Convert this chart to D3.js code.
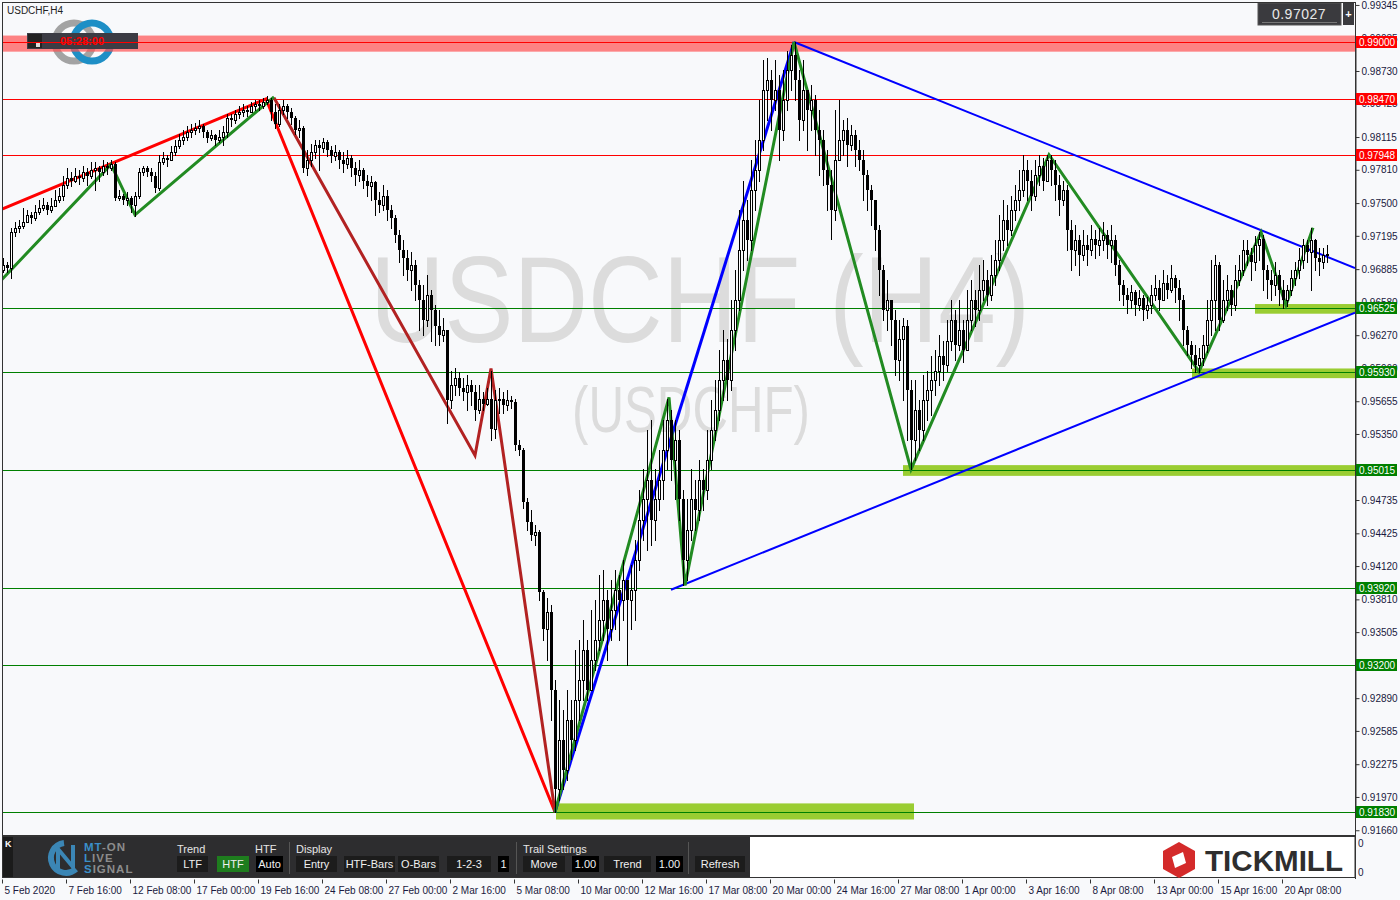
<!DOCTYPE html>
<html><head><meta charset="utf-8">
<script src="https://cdn.jsdelivr.net/npm/d3@7"></script>
<style>
body{margin:0;background:#f8f9fb;}
svg{display:block;font-family:"Liberation Sans",Arial,sans-serif;}
</style>
</head><body><svg id="c" width="1400" height="900"></svg>
<script>
// ---------------- DATA ----------------
const symbolLabel = "USDCHF,H4";
const currentPrice = "0.97027";
const firstOpen = 0.9688;
const closes = [
0.9692,0.9690,0.9723,0.9727,0.9729,0.9732,0.9739,0.9736,0.9742,0.9745,
0.9748,0.9744,0.9747,0.9753,0.9757,0.9767,0.9773,0.9771,0.9775,0.9773,
0.9779,0.9775,0.9781,0.9783,0.9779,0.9785,0.9783,0.9786,0.9755,0.9757,
0.9753,0.9755,0.9748,0.9757,0.9779,0.9783,0.9779,0.9775,0.9764,0.9788,
0.9792,0.9790,0.9798,0.9803,0.9809,0.9812,0.9816,0.9818,0.9820,0.9822,
0.9816,0.9811,0.9813,0.9809,0.9812,0.9816,0.9829,0.9827,0.9833,0.9835,
0.9837,0.9835,0.9840,0.9842,0.9840,0.9844,0.9846,0.9835,0.9824,0.9837,
0.9840,0.9835,0.9829,0.9818,0.9820,0.9783,0.9790,0.9798,0.9804,0.9801,
0.9807,0.9799,0.9794,0.9798,0.9790,0.9786,0.9792,0.9783,0.9776,0.9781,
0.9771,0.9766,0.9770,0.9753,0.9748,0.9757,0.9744,0.9736,0.9720,0.9706,
0.9699,0.9688,0.9692,0.9674,0.9660,0.9641,0.9664,0.9650,0.9636,0.9627,
0.9632,0.9567,0.9581,0.9587,0.9578,0.9574,0.9581,0.9574,0.9557,0.9568,
0.9563,0.9568,0.9540,0.9567,0.9568,0.9562,0.9567,0.9565,0.9525,0.9520,
0.9472,0.9453,0.9441,0.9444,0.9388,0.9353,0.9369,0.9297,0.9204,0.9250,
0.9222,0.9269,0.9250,0.9287,0.9306,0.9334,0.9297,0.9325,0.9343,0.9362,
0.9380,0.9353,0.9371,0.9390,0.9380,0.9399,0.9380,0.9390,0.9418,0.9455,
0.9474,0.9492,0.9455,0.9474,0.9492,0.9520,0.9548,0.9511,0.9529,0.9474,
0.9418,0.9446,0.9474,0.9464,0.9492,0.9483,0.9511,0.9539,0.9557,0.9585,
0.9604,0.9585,0.9632,0.9660,0.9706,0.9734,0.9716,0.9762,0.9781,0.9809,
0.9855,0.9865,0.9846,0.9855,0.9818,0.9846,0.9874,0.9888,0.9865,0.9827,
0.9855,0.9837,0.9846,0.9818,0.9809,0.9781,0.9767,0.9744,0.9790,0.9809,
0.9818,0.9804,0.9813,0.9799,0.9790,0.9776,0.9762,0.9753,0.9725,0.9688,
0.9650,0.9660,0.9641,0.9604,0.9623,0.9636,0.9576,0.9529,0.9557,0.9539,
0.9567,0.9576,0.9585,0.9594,0.9608,0.9599,0.9622,0.9641,0.9618,0.9632,
0.9613,0.9641,0.9660,0.9650,0.9669,0.9678,0.9664,0.9683,0.9697,0.9716,
0.9734,0.9725,0.9744,0.9753,0.9762,0.9781,0.9771,0.9757,0.9776,0.9785,
0.9771,0.9790,0.9781,0.9767,0.9753,0.9762,0.9725,0.9706,0.9716,0.9702,
0.9711,0.9706,0.9717,0.9711,0.9716,0.9720,0.9711,0.9716,0.9692,0.9674,
0.9664,0.9660,0.9667,0.9655,0.9662,0.9650,0.9655,0.9664,0.9671,0.9660,
0.9676,0.9669,0.9680,0.9671,0.9660,0.9632,0.9618,0.9609,0.9599,0.9606,
0.9618,0.9641,0.9660,0.9692,0.9641,0.9660,0.9669,0.9655,0.9678,0.9688,
0.9706,0.9702,0.9695,0.9711,0.9717,0.9688,0.9678,0.9674,0.9683,0.9669,
0.9660,0.9669,0.9680,0.9688,0.9697,0.9711,0.9704,0.9716,0.9699,0.9695,
0.9702,0.97027];
const highs = [
0.9699,0.9695,0.9727,0.9732,0.9734,0.9745,0.9744,0.9742,0.9748,0.9753,
0.9755,0.9751,0.9755,0.9762,0.9764,0.9775,0.9783,0.9779,0.9783,0.9781,
0.9785,0.9783,0.9788,0.9788,0.9785,0.9790,0.9788,0.9790,0.9788,0.9762,
0.9758,0.9760,0.9757,0.9760,0.9783,0.9785,0.9785,0.9783,0.9779,0.9795,
0.9798,0.9795,0.9803,0.9809,0.9814,0.9818,0.9822,0.9824,0.9825,0.9827,
0.9824,0.9818,0.9818,0.9814,0.9818,0.9822,0.9833,0.9833,0.9837,0.9840,
0.9842,0.9840,0.9844,0.9846,0.9846,0.9848,0.9850,0.9848,0.9842,0.9842,
0.9846,0.9842,0.9839,0.9831,0.9827,0.9822,0.9799,0.9805,0.9809,0.9809,
0.9811,0.9809,0.9803,0.9804,0.9799,0.9798,0.9799,0.9795,0.9788,0.9790,
0.9783,0.9776,0.9775,0.9771,0.9760,0.9767,0.9762,0.9748,0.9739,0.9725,
0.9716,0.9706,0.9704,0.9697,0.9678,0.9674,0.9683,0.9669,0.9655,0.9650,
0.9643,0.9632,0.9594,0.9596,0.9593,0.9587,0.9590,0.9585,0.9581,0.9581,
0.9574,0.9578,0.9594,0.9576,0.9578,0.9574,0.9576,0.9570,0.9568,0.9529,
0.9522,0.9475,0.9464,0.9450,0.9446,0.9390,0.9382,0.9376,0.9306,0.9287,
0.9278,0.9297,0.9287,0.9334,0.9343,0.9362,0.9343,0.9371,0.9380,0.9404,
0.9408,0.9390,0.9399,0.9408,0.9404,0.9418,0.9399,0.9413,0.9436,0.9483,
0.9502,0.9539,0.9548,0.9502,0.9520,0.9548,0.9568,0.9557,0.9548,0.9539,
0.9483,0.9474,0.9502,0.9492,0.9511,0.9502,0.9539,0.9567,0.9585,0.9613,
0.9632,0.9623,0.9660,0.9688,0.9744,0.9771,0.9753,0.9790,0.9809,0.9846,
0.9883,0.9885,0.9874,0.9883,0.9869,0.9874,0.9892,0.9897,0.9900,0.9874,
0.9883,0.9855,0.9860,0.9851,0.9837,0.9818,0.9799,0.9781,0.9837,0.9846,
0.9827,0.9829,0.9823,0.9818,0.9809,0.9799,0.9781,0.9767,0.9753,0.9730,
0.9692,0.9678,0.9660,0.9650,0.9641,0.9643,0.9641,0.9585,0.9585,0.9567,
0.9590,0.9594,0.9608,0.9613,0.9627,0.9622,0.9641,0.9660,0.9650,0.9660,
0.9641,0.9669,0.9678,0.9669,0.9692,0.9697,0.9688,0.9702,0.9716,0.9739,
0.9753,0.9748,0.9757,0.9767,0.9781,0.9795,0.9790,0.9781,0.9790,0.9795,
0.9792,0.9795,0.9795,0.9790,0.9776,0.9771,0.9767,0.9734,0.9730,0.9720,
0.9725,0.9720,0.9730,0.9725,0.9727,0.9732,0.9725,0.9730,0.9720,0.9697,
0.9678,0.9671,0.9674,0.9669,0.9669,0.9664,0.9663,0.9674,0.9683,0.9678,
0.9688,0.9683,0.9692,0.9683,0.9678,0.9664,0.9636,0.9622,0.9618,0.9615,
0.9627,0.9660,0.9697,0.9702,0.9695,0.9678,0.9683,0.9674,0.9692,0.9702,
0.9716,0.9716,0.9708,0.9719,0.9723,0.9720,0.9692,0.9688,0.9695,0.9688,
0.9678,0.9674,0.9688,0.9695,0.9708,0.9717,0.9716,0.9727,0.9717,0.9708,
0.9708,0.9711];
const lows = [
0.9686,0.9686,0.9680,0.9719,0.9723,0.9727,0.9732,0.9731,0.9734,0.9740,
0.9744,0.9740,0.9742,0.9747,0.9751,0.9753,0.9764,0.9766,0.9770,0.9768,
0.9771,0.9767,0.9773,0.9762,0.9771,0.9776,0.9777,0.9781,0.9753,0.9753,
0.9749,0.9748,0.9742,0.9738,0.9755,0.9776,0.9775,0.9771,0.9760,0.9762,
0.9786,0.9785,0.9790,0.9795,0.9801,0.9805,0.9809,0.9812,0.9814,0.9816,
0.9812,0.9807,0.9809,0.9804,0.9807,0.9804,0.9812,0.9822,0.9825,0.9829,
0.9831,0.9831,0.9835,0.9837,0.9837,0.9839,0.9842,0.9827,0.9820,0.9822,
0.9833,0.9829,0.9824,0.9814,0.9812,0.9779,0.9776,0.9785,0.9792,0.9781,
0.9798,0.9794,0.9788,0.9790,0.9783,0.9779,0.9783,0.9775,0.9767,0.9771,
0.9764,0.9757,0.9753,0.9739,0.9742,0.9744,0.9734,0.9727,0.9714,0.9695,
0.9683,0.9678,0.9669,0.9660,0.9632,0.9627,0.9636,0.9622,0.9618,0.9618,
0.9622,0.9545,0.9559,0.9571,0.9571,0.9567,0.9557,0.9562,0.9548,0.9555,
0.9557,0.9562,0.9529,0.9531,0.9555,0.9555,0.9557,0.9559,0.9520,0.9515,
0.9466,0.9446,0.9436,0.9432,0.9380,0.9343,0.9325,0.9269,0.9183,0.9194,
0.9204,0.9213,0.9232,0.9241,0.9269,0.9287,0.9287,0.9297,0.9315,0.9334,
0.9343,0.9325,0.9343,0.9353,0.9343,0.9362,0.9320,0.9353,0.9362,0.9408,
0.9436,0.9427,0.9432,0.9436,0.9464,0.9474,0.9502,0.9492,0.9474,0.9455,
0.9394,0.9399,0.9436,0.9446,0.9455,0.9464,0.9474,0.9502,0.9529,0.9548,
0.9567,0.9567,0.9576,0.9613,0.9650,0.9688,0.9697,0.9706,0.9744,0.9771,
0.9799,0.9827,0.9818,0.9837,0.9790,0.9809,0.9837,0.9855,0.9846,0.9809,
0.9818,0.9799,0.9818,0.9795,0.9776,0.9767,0.9744,0.9717,0.9734,0.9790,
0.9795,0.9785,0.9799,0.9785,0.9781,0.9753,0.9744,0.9730,0.9706,0.9664,
0.9641,0.9632,0.9618,0.9590,0.9585,0.9567,0.9529,0.9502,0.9511,0.9520,
0.9529,0.9548,0.9553,0.9571,0.9581,0.9585,0.9594,0.9613,0.9604,0.9613,
0.9602,0.9618,0.9632,0.9636,0.9641,0.9660,0.9655,0.9660,0.9674,0.9688,
0.9706,0.9711,0.9720,0.9734,0.9744,0.9757,0.9753,0.9744,0.9753,0.9767,
0.9762,0.9776,0.9767,0.9753,0.9739,0.9748,0.9706,0.9688,0.9692,0.9683,
0.9697,0.9692,0.9702,0.9699,0.9702,0.9706,0.9699,0.9695,0.9683,0.9660,
0.9655,0.9648,0.9652,0.9646,0.9650,0.9641,0.9643,0.9648,0.9660,0.9650,
0.9660,0.9662,0.9667,0.9658,0.9641,0.9618,0.9609,0.9596,0.9593,0.9593,
0.9599,0.9611,0.9627,0.9632,0.9632,0.9639,0.9650,0.9646,0.9650,0.9674,
0.9683,0.9692,0.9678,0.9688,0.9697,0.9669,0.9662,0.9660,0.9664,0.9655,
0.9652,0.9654,0.9664,0.9674,0.9680,0.9690,0.9695,0.9669,0.9688,0.9683,
0.9690,0.9695];

const dateLabels = ["5 Feb 2020","7 Feb 16:00","12 Feb 08:00","17 Feb 00:00","19 Feb 16:00","24 Feb 08:00","27 Feb 00:00","2 Mar 16:00","5 Mar 08:00","10 Mar 00:00","12 Mar 16:00","17 Mar 08:00","20 Mar 00:00","24 Mar 16:00","27 Mar 08:00","1 Apr 00:00","3 Apr 16:00","8 Apr 08:00","13 Apr 00:00","15 Apr 16:00","20 Apr 08:00"];
const barsPerDateLabel = 16;
const priceTicks = ["0.99345","0.99035","0.98730","0.98425","0.98115","0.97810","0.97500","0.97195","0.96885","0.96580","0.96270","0.95960","0.95655","0.95350","0.94735","0.94425","0.94120","0.93810","0.93505","0.92890","0.92585","0.92275","0.91970","0.91660"];
const resistanceLevels = ["0.99000","0.98470","0.97948"];
const supportLevels = ["0.96525","0.95930","0.95015","0.93920","0.93200","0.91830"];

// zigzag / trendline vertices: [bar index, price]
const htfDownLine = [[-0.5,0.9744],[65.75,0.9847],[138,0.9183]];
const htfUpLine = [[138,0.9183],[197.75,0.9900]];
const ltfDownZigzag = [[67.75,0.9848],[118,0.9515],[122,0.9596],[138,0.9183]];
const ltfUpZigzagA = [[-0.5,0.9678],[27,0.9786],[33,0.9739],[67.75,0.9849]];
const ltfUpZigzagB = [[138,0.9183],[166.5,0.9569],[170.5,0.9394],[197.75,0.9900],[227,0.9502],[261.5,0.9795],[299,0.9593],[314.5,0.9723],[320.75,0.9655],[327.5,0.9727]];
const triangleTop = [[197.75,0.9900],[338,0.96895]];
const triangleBottom = [[167,0.9390],[338,0.9648]];
// zones: [fromBar, toBar, lowPrice, highPrice]
const supportZones = [[138.25,227.75,0.9176,0.9191],[225,338,0.9496,0.9506],[297.25,338,0.9587,0.9596],[313,338,0.9647,0.9656]];
const resistanceZone = [-1,338,0.9891,0.9906];

// ---------------- CHART ----------------
const svg = d3.select("#c");
const PL=2, PR=1355, PT=2, PB=835;
const x = d3.scaleLinear().domain([0,338]).range([3,1355]);
const y = d3.scaleLinear().domain([0.9183,0.9900]).range([812,42]);

svg.append("rect").attr("width",1400).attr("height",900).attr("fill","#f8f9fb");
svg.append("defs").append("clipPath").attr("id","plot").append("rect")
  .attr("x",PL).attr("y",PT).attr("width",PR-PL).attr("height",PB-PT);
const plot = svg.append("g").attr("clip-path","url(#plot)");

// watermark
plot.append("text").attr("x",700).attr("y",342).attr("text-anchor","middle")
  .attr("font-size",122).attr("fill","#dcdcdc").attr("textLength",660).attr("lengthAdjust","spacingAndGlyphs")
  .text("USDCHF (H4)");
plot.append("text").attr("x",691).attr("y",432).attr("text-anchor","middle")
  .attr("font-size",64).attr("fill","#dcdcdc").attr("textLength",238).attr("lengthAdjust","spacingAndGlyphs")
  .text("(USDCHF)");

// logo top-left (behind band)
plot.append("circle").attr("cx",74).attr("cy",42).attr("r",19).attr("fill","none").attr("stroke","#a3a3a3").attr("stroke-width",7);
plot.append("circle").attr("cx",92).attr("cy",42).attr("r",19).attr("fill","none").attr("stroke","#1e8fc6").attr("stroke-width",7);

// zones
plot.append("rect").attr("x",x(resistanceZone[0])).attr("width",x(resistanceZone[1])-x(resistanceZone[0]))
  .attr("y",y(resistanceZone[3])).attr("height",y(resistanceZone[2])-y(resistanceZone[3])).attr("fill","#ff5050").attr("opacity",0.7);
plot.selectAll(".zone").data(supportZones).join("rect")
  .attr("x",d=>x(d[0])).attr("width",d=>x(d[1])-x(d[0]))
  .attr("y",d=>y(d[3])).attr("height",d=>y(d[2])-y(d[3])).attr("fill","#9acd32");

// timer box (top-left)
plot.append("rect").attr("x",27).attr("y",33).attr("width",111).attr("height",16).attr("fill","#3c3c44");
plot.append("rect").attr("x",28).attr("y",34).attr("width",14).attr("height",14).attr("fill","#222");
plot.append("rect").attr("x",36).attr("y",43).attr("width",4).attr("height",4).attr("fill","#ddd");
plot.append("text").attr("x",82).attr("y",45).attr("text-anchor","middle").attr("font-size",11)
  .attr("font-weight","bold").attr("fill","#ff0000").text("05:28:00");

// level lines (1px filled rows)
const hline = (p,col)=>plot.append("rect").attr("x",PL).attr("width",PR-PL)
  .attr("y",Math.round(y(+p))).attr("height",1).attr("fill",col);
resistanceLevels.forEach(p=>hline(p,"#ff0000"));
supportLevels.forEach(p=>hline(p,"#008000"));

// zigzags & trendlines
const line = d3.line().x(d=>x(d[0])).y(d=>y(d[1]));
const drawPath = (pts,col,w)=>plot.append("path").attr("d",line(pts)).attr("fill","none")
  .attr("stroke",col).attr("stroke-width",w).attr("stroke-linejoin","miter");
drawPath(triangleTop,"#0000ff",2);
drawPath(triangleBottom,"#0000ff",2);
drawPath(htfDownLine,"#ff0000",3);
drawPath(ltfDownZigzag,"#b22222",3);
drawPath(ltfUpZigzagA,"#228b22",3);
drawPath(htfUpLine,"#0000ff",3);
drawPath(ltfUpZigzagB,"#228b22",3);

// candles
const bars = closes.map((c,i)=>{
  const o = i===0?firstOpen:closes[i-1];
  return {i,o,c,h:Math.max(highs[i],o,c),l:Math.min(lows[i],o,c)};
});
const cg = plot.append("g").attr("shape-rendering","crispEdges");
bars.forEach(b=>{
  const cx = Math.round(x(b.i));
  cg.append("rect").attr("x",cx).attr("width",1)
    .attr("y",Math.round(y(b.h))).attr("height",Math.round(y(b.l))-Math.round(y(b.h))+1).attr("fill","#000");
  const yt = Math.round(y(Math.max(b.o,b.c))), yb = Math.round(y(Math.min(b.o,b.c)));
  if(b.c>=b.o){
    cg.append("rect").attr("x",cx-0.5).attr("y",yt+0.5).attr("width",2).attr("height",Math.max(yb-yt,1))
      .attr("fill","#fff").attr("stroke","#000");
  } else {
    cg.append("rect").attr("x",cx-1).attr("y",yt).attr("width",3).attr("height",Math.max(yb-yt,1)).attr("fill","#000");
  }
});

plot.append("text").attr("x",7).attr("y",14).attr("font-size",10).attr("fill","#222").text(symbolLabel);

// price box top-right
svg.append("rect").attr("x",1258).attr("y",3).attr("width",83).attr("height",22).attr("fill","#3a3a3e").attr("stroke","#555");
svg.append("line").attr("x1",1262).attr("x2",1337).attr("y1",22.5).attr("y2",22.5).attr("stroke","#777");
svg.append("text").attr("x",1299).attr("y",19).attr("text-anchor","middle").attr("font-size",14)
  .attr("fill","#e8e8e8").attr("letter-spacing",0.5).text(currentPrice);
svg.append("rect").attr("x",1343).attr("y",3).attr("width",11).attr("height",22).attr("fill","#3a3a3e");
svg.append("text").attr("x",1348.5).attr("y",18).attr("text-anchor","middle").attr("font-size",11).attr("font-weight","bold").attr("fill","#fff").text("+");

// borders
svg.append("rect").attr("x",PL+0.5).attr("y",PT+0.5).attr("width",PR-PL).attr("height",PB-PT)
  .attr("fill","none").attr("stroke","#333").attr("stroke-width",1).attr("shape-rendering","crispEdges");

// price axis
const yAxis = d3.axisRight(y).tickValues(priceTicks.map(Number)).tickFormat((d,i)=>priceTicks[i]).tickSize(4).tickPadding(2);
const ya = svg.append("g").attr("transform",`translate(${PR+0.5},0)`).call(yAxis);
ya.select(".domain").attr("stroke","#333");
ya.selectAll("text").attr("font-size",10).attr("fill","#1a1a40").attr("font-family","Liberation Sans, Arial");
ya.selectAll("line").attr("stroke","#333");

// level labels
const lvl = (p,col)=>{
  const yy = Math.round(y(+p));
  svg.append("rect").attr("x",1356).attr("y",yy-6).attr("width",41).attr("height",12).attr("fill",col);
  svg.append("text").attr("x",1359).attr("y",yy+4).attr("font-size",10).attr("fill","#fff").text(p);
};
resistanceLevels.forEach(p=>lvl(p,"#ff0000"));
supportLevels.forEach(p=>lvl(p,"#008000"));

// sub-window / toolbar
svg.append("rect").attr("x",2.5).attr("y",836.5).attr("width",1352.5).attr("height",41).attr("fill","#fff").attr("stroke","#333");
svg.append("line").attr("x1",1355.5).attr("x2",1355.5).attr("y1",836).attr("y2",879).attr("stroke","#333");
svg.append("text").attr("x",1358).attr("y",847).attr("font-size",10).attr("fill","#1a1a40").text("0");
svg.append("text").attr("x",1358).attr("y",876).attr("font-size",10).attr("fill","#1a1a40").text("0");
svg.append("rect").attr("x",3).attr("y",837).attr("width",747).attr("height",40).attr("fill","#2d2d2f");
svg.append("rect").attr("x",3).attr("y",837).attr("width",10).attr("height",40).attr("fill","#1b1b1b");
svg.append("text").attr("x",5).attr("y",847).attr("font-size",9).attr("font-weight","bold").attr("fill","#fff").text("K");
// MT-ON logo
svg.append("path").attr("d","M64,843 A15,15 0 1 0 76,869").attr("fill","none").attr("stroke","#3b86b5").attr("stroke-width",6);
svg.append("path").attr("d","M58,871 L58,849 L73,867 L73,845").attr("fill","none").attr("stroke","#3b86b5").attr("stroke-width",4);
const logoLines=[["MT","-ON",851],["L","IVE",862],["S","IGNAL",873]];
logoLines.forEach(([a,b,yy])=>{
  const t=svg.append("text").attr("x",84).attr("y",yy).attr("font-size",11.5).attr("font-weight","bold").attr("letter-spacing",1);
  t.append("tspan").attr("fill","#3b8fc8").text(a);
  t.append("tspan").attr("fill","#8c8c8c").text(b);
});
const tbLabels=[["Trend",177],["HTF",255],["Display",296],["Trail Settings",523]];
tbLabels.forEach(([s,xx])=>svg.append("text").attr("x",xx).attr("y",853).attr("font-size",11).attr("fill","#e6e6e6").text(s));
const buttons=[["LTF",177,208,"#1c1c1c"],["HTF",217,249,"#1e7d1e"],["Auto",256,283,"#000"],
 ["Entry",296,337,"#1c1c1c"],["HTF-Bars",344,395,"#1c1c1c"],["O-Bars",398,439,"#1c1c1c"],["1-2-3",447,491,"#1c1c1c"],["1",498,509,"#000"],
 ["Move",523,565,"#1c1c1c"],["1.00",572,599,"#000"],["Trend",604,651,"#1c1c1c"],["1.00",656,683,"#000"],["Refresh",695,745,"#1c1c1c"]];
buttons.forEach(([s,a,b,col])=>{
  svg.append("rect").attr("x",a).attr("y",856).attr("width",b-a).attr("height",16).attr("fill",col);
  svg.append("text").attr("x",(a+b)/2).attr("y",868).attr("text-anchor","middle").attr("font-size",11).attr("fill","#f0f0f0").text(s);
});
[289,516,688].forEach(xx=>svg.append("line").attr("x1",xx+0.5).attr("x2",xx+0.5).attr("y1",842).attr("y2",874).attr("stroke","#555"));
// TICKMILL logo
svg.append("path").attr("d","M1179,842 L1195,851 L1195,869 L1179,878 L1163,869 L1163,851 Z").attr("fill","#d42a2a");
svg.append("path").attr("d","M1172,857 L1183,852 L1186,863 L1175,868 Z").attr("fill","#fff");
svg.append("text").attr("x",1205).attr("y",871).attr("font-size",29).attr("font-weight","bold").attr("fill","#2e2e2e")
  .attr("textLength",138).attr("lengthAdjust","spacingAndGlyphs").text("TICKMILL");

// time axis
const xAxis = d3.axisBottom(x).tickValues(dateLabels.map((d,i)=>i*barsPerDateLabel)).tickFormat((d,i)=>dateLabels[i]).tickSize(4).tickPadding(3);
const xa = svg.append("g").attr("transform","translate(-1,879.5)").call(xAxis);
xa.select(".domain").remove();
xa.selectAll("line").attr("stroke","#333");
xa.selectAll("text").attr("text-anchor","start").attr("x",2).attr("font-size",10).attr("fill","#1a1a40");
</script></body></html>
